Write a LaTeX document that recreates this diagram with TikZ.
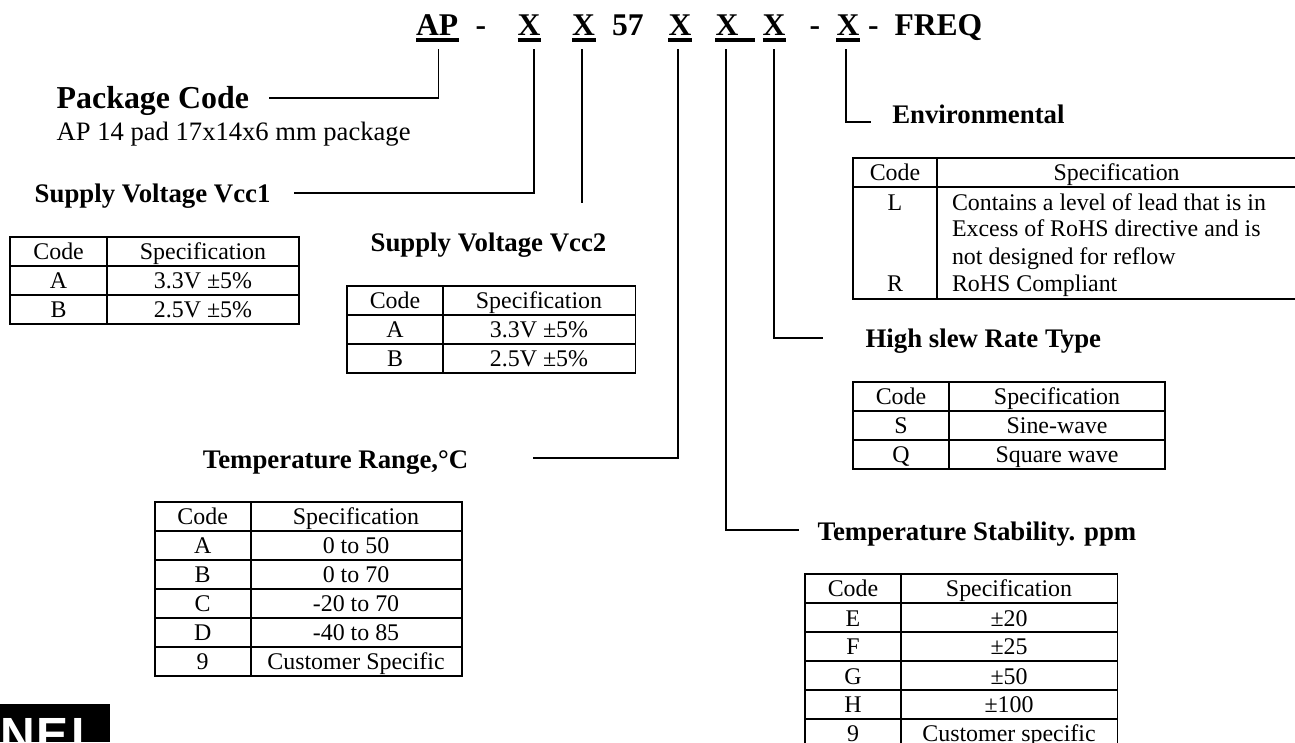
\documentclass[tikz,border=0pt]{standalone}
\usepackage{fontspec}
\setmainfont{Liberation Serif}
\newfontfamily\logofont{Liberation Sans}
\tikzset{
  base/.style={inner sep=0pt,outer sep=0pt,anchor=base},
  cell/.style={base,font=\fontsize{23.9}{27}\selectfont},
  celltext/.style={cell,anchor=base west},
  part/.style={base,anchor=base west,font=\fontsize{31.6}{36}\selectfont\bfseries},
  head/.style={base,anchor=base west,font=\fontsize{26.8}{30}\selectfont\bfseries},
  bighead/.style={base,anchor=base west,font=\fontsize{31.9}{36}\selectfont\bfseries},
  note/.style={base,anchor=base west,font=\fontsize{26.6}{30}\selectfont},
  grid/.style={line width=1.8pt,draw=black},
  wire/.style={line width=1.8pt,draw=black,line join=miter},
  partline/.style={line width=3.4pt,draw=black}
}
\begin{document}
\begin{tikzpicture}[x=1pt,y=-1pt]
\useasboundingbox (0,0) rectangle (1295,742);
\clip (0,0) rectangle (1295,742);
\fill[white] (0,0) rectangle (1295,742);

% part number
\node[part] (pAP) at (416,35) {AP};
\node[part] (d1) at (475.5,35) {-};
\node[part] (pX1) at (517.5,35) {X};
\node[part] (pX2) at (572,35) {X};
\node[part] (p57) at (612,35) {57};
\node[part] (pX3) at (668.5,35) {X};
\node[part] (pX4) at (715.5,35) {X};
\node[part] (pX5) at (762.5,35) {X};
\node[part] (d2) at (809.5,35) {-};
\node[part] (pX6) at (836.5,35) {X};
\node[part] (d3) at (868,35) {-};
\node[part] (freq) at (894.5,35) {FREQ};
\draw[partline] (416,40)--(459,40);
\draw[partline] (517.5,40)--(540.5,40);
\draw[partline] (572,40)--(595.5,40);
\draw[partline] (668,40)--(692,40);
\draw[partline] (715,40)--(755,40);
\draw[partline] (762.5,40)--(786,40);
\draw[partline] (836,40)--(860,40);

% labels
\node[bighead] (lPack) at (56.7,108.3) {Package Code};
\node[note] (lNote) at (56.7,140) {AP 14 pad 17x14x6 mm package};
\node[head] (lV1) at (34.7,202.7) {Supply Voltage Vcc1};
\node[head] (lV2) at (370.6,251.7) {Supply Voltage Vcc2};
\node[head] (lRange) at (202.9,468.3) {Temperature Range,°C};
\node[head] (lStab) at (817.6,540) {Temperature Stability. ppm};
\node[head] (lSlew) at (865.6,347.3) {High slew Rate Type};
\node[head] (lEnv) at (892.3,123.3) {Environmental};

% connectors
\coordinate (aT) at (438.5,49.3); \coordinate (aC) at (438.5,98); \coordinate (aE) at (269.4,98);
\coordinate (bT) at (534,49.3); \coordinate (bC) at (534,193.3); \coordinate (bE) at (294,193.3);
\coordinate (cT) at (581.7,49.3); \coordinate (cE) at (581.7,203.3);
\coordinate (dT) at (678.3,49.3); \coordinate (dC) at (678.3,457.7); \coordinate (dE) at (533,457.7);
\coordinate (eT) at (726,49.3); \coordinate (eC) at (726,530); \coordinate (eE) at (798.7,530);
\coordinate (fT) at (774,49.3); \coordinate (fC) at (774,337.7); \coordinate (fE) at (822.5,337.7);
\coordinate (gT) at (846,49.3); \coordinate (gC) at (846,121.7); \coordinate (gE) at (870.6,121.7);
\draw[wire] (aT)--(aC)--(aE);
\draw[wire] (bT)--(bC)--(bE);
\draw[wire] (cT)--(cE);
\draw[wire] (dT)--(dC)--(dE);
\draw[wire] (eT)--(eC)--(eE);
\draw[wire] (fT)--(fC)--(fE);
\draw[wire] (gT)--(gC)--(gE);

% Vcc1 table
\draw[grid] (10.3,237) rectangle (299,324);
\draw[grid] (107,237)--(107,324);
\foreach \y in {265.8,294.8} \draw[grid] (10.3,\y)--(299,\y);
\foreach \yy/\c/\s [count=\i] in {259.7/Code/Specification,288.7/A/3.3V ±5\%,317.7/B/2.5V ±5\%}{
  \node[cell] (va\i) at (58.6,\yy) {\c};
  \node[cell] (vb\i) at (203,\yy) {\s};
}

% Vcc2 table
\draw[grid] (347,286) rectangle (635.5,373);
\draw[grid] (443,286)--(443,373);
\foreach \y in {315,344} \draw[grid] (347,\y)--(635.5,\y);
\foreach \yy/\c/\s [count=\i] in {308.7/Code/Specification,337.7/A/3.3V ±5\%,366.7/B/2.5V ±5\%}{
  \node[cell] (wa\i) at (395,\yy) {\c};
  \node[cell] (wb\i) at (539,\yy) {\s};
}

% Environmental table
\draw[grid] (853,158) rectangle (1297,298.7);
\draw[grid] (937,158)--(937,298.7);
\draw[grid] (853,187)--(1297,187);
\node[cell] (ea1) at (895,180.7) {Code};
\node[cell] (eb1) at (1116.6,180.7) {Specification};
\node[cell] (ea2) at (895,210) {L};
\node[celltext] (eb2) at (952,210) {Contains a level of lead that is in};
\node[celltext] (eb3) at (952,236.9) {Excess of RoHS directive and is};
\node[celltext] (eb4) at (952,264.2) {not designed for reflow};
\node[cell] (ea5) at (895,291.7) {R};
\node[celltext] (eb5) at (952,291.7) {RoHS Compliant};

% Slew table
\draw[grid] (853,381.7) rectangle (1165,469);
\draw[grid] (949,381.7)--(949,469);
\foreach \y in {411,440} \draw[grid] (853,\y)--(1165,\y);
\foreach \yy/\c/\s [count=\i] in {404.5/Code/Specification,433.5/S/Sine-wave,462.5/Q/Square wave}{
  \node[cell] (sa\i) at (901,\yy) {\c};
  \node[cell] (sb\i) at (1057,\yy) {\s};
}

% Temperature range table
\draw[grid] (154.7,501.7) rectangle (461.6,676);
\draw[grid] (250.6,501.7)--(250.6,676);
\foreach \y in {530.7,559.7,588.7,617.7,647} \draw[grid] (154.7,\y)--(461.6,\y);
\foreach \yy/\c/\s [count=\i] in {524.4/Code/Specification,553.4/A/0 to 50,582.4/B/0 to 70,611.4/C/-20 to 70,640.4/D/-40 to 85,669.6/9/Customer Specific}{
  \node[cell] (ra\i) at (202.7,\yy) {\c};
  \node[cell] (rb\i) at (356,\yy) {\s};
}

% Temperature stability table
\draw[grid] (805,574) rectangle (1117.5,760);
\draw[grid] (900.8,574)--(900.8,760);
\foreach \y in {602.7,631.7,660.7,689.7,718.9} \draw[grid] (805,\y)--(1117.5,\y);
\foreach \yy/\c/\s [count=\i] in {596.7/Code/Specification,626/E/±20,654.7/F/±25,684/G/±50,712.7/H/±100,741.7/9/Customer specific}{
  \node[cell] (ta\i) at (853,\yy) {\c};
  \node[cell] (tb\i) at (1009,\yy) {\s};
}

% logo
\fill[black] (0,704) rectangle (110,742);
\node[base,anchor=base west,text=white,font=\fontsize{48}{50}\selectfont\logofont\bfseries] (logo) at (1,751) {N\kern0.5ptE\kern3ptL};
\end{tikzpicture}
\end{document}
